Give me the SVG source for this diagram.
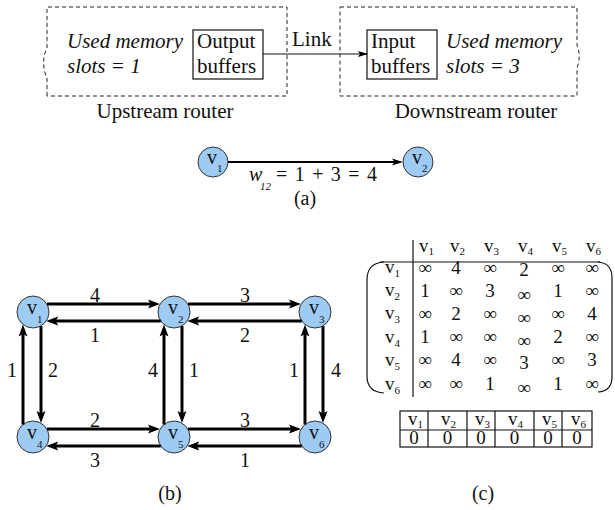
<svg xmlns="http://www.w3.org/2000/svg" width="615" height="510" viewBox="0 0 615 510" font-family="'Liberation Serif', 'DejaVu Serif', serif">
<style>
text { font-family: 'Liberation Serif', 'DejaVu Serif', serif; fill: #111; }
.t { font-size: 21px; }
.it { font-style: italic; }
.dash { fill: none; stroke: #222; stroke-width: 1; stroke-dasharray: 4 3; }
.box { fill: none; stroke: #111; stroke-width: 1.2; }
.node circle { fill: #9dcbf3; stroke: #333; stroke-width: 1; }
.node text { font-size: 20px; }
.sub { font-size: 11px; }
.e { stroke: #000; stroke-width: 3; fill: none; marker-end: url(#ah); }
.lbl { font-size: 20px; text-anchor: middle; }
.m { font-size: 19px; text-anchor: middle; }
.hv { font-size: 19px; }
.grid { stroke: #111; stroke-width: 1.2; fill: none; }
</style>
<defs>
<marker id="ah" markerUnits="userSpaceOnUse" viewBox="0 -5 13 10" markerWidth="13" markerHeight="10" refX="5" refY="0" orient="auto">
<path d="M0,-4.5 L12,0 L0,4.5 L2.5,0 Z" fill="#000"/>
</marker>
<marker id="ah2" markerUnits="userSpaceOnUse" viewBox="0 -5 12 10" markerWidth="12" markerHeight="10" refX="5" refY="0" orient="auto">
<path d="M0,-3.5 L11,0 L0,3.5 L2.5,0 Z" fill="#000"/>
</marker>
<marker id="ah3" markerUnits="userSpaceOnUse" viewBox="0 -5 12 10" markerWidth="12" markerHeight="10" refX="9" refY="0" orient="auto">
<path d="M0,-3 L10,0 L0,3 L2,0 Z" fill="#000"/>
</marker>
</defs>

<g id="upstream">
<path class="dash" d="M47,96 L47,78 C43,70 42,58 47,48 L47,7 L287,7 L287,96 Z"/>
<text class="t it" x="67" y="48">Used memory</text>
<text class="t it" x="67" y="73">slots = 1</text>
<text class="t" x="165" y="118" text-anchor="middle">Upstream router</text>
</g>
<g id="output-buffers">
<rect class="box" x="193" y="30" width="70" height="49"/>
<text class="t" x="197" y="48">Output</text>
<text class="t" x="197" y="73">buffers</text>
</g>
<g id="downstream">
<path class="dash" d="M340,7 L577,7 L577,45 C580,52 580,60 577,68 L577,96 L340,96 Z"/>
<text class="t it" x="446" y="48">Used memory</text>
<text class="t it" x="446" y="73">slots = 3</text>
<text class="t" x="476" y="118" text-anchor="middle">Downstream router</text>
</g>
<g id="input-buffers">
<rect class="box" x="367" y="30" width="70" height="49"/>
<text class="t" x="371" y="48">Input</text>
<text class="t" x="371" y="73">buffers</text>
</g>

<g id="a-v1" class="node">
<circle cx="213" cy="162" r="15"/>
<text x="207" y="164">v<tspan class="sub" dy="8">1</tspan></text>
</g>
<g id="a-v2" class="node">
<circle cx="418" cy="162" r="15"/>
<text x="412" y="164">v<tspan class="sub" dy="8">2</tspan></text>
</g>

<g id="v1" class="node"><circle cx="33" cy="312" r="16"/><text x="27" y="314">v<tspan class="sub" dy="9">1</tspan></text></g>
<g id="v2" class="node"><circle cx="174" cy="312" r="16"/><text x="168" y="314">v<tspan class="sub" dy="9">2</tspan></text></g>
<g id="v3" class="node"><circle cx="315" cy="312" r="16"/><text x="309" y="314">v<tspan class="sub" dy="9">3</tspan></text></g>
<g id="v4" class="node"><circle cx="33" cy="437" r="16"/><text x="27" y="439">v<tspan class="sub" dy="9">4</tspan></text></g>
<g id="v5" class="node"><circle cx="174" cy="437" r="16"/><text x="168" y="439">v<tspan class="sub" dy="9">5</tspan></text></g>
<g id="v6" class="node"><circle cx="315" cy="437" r="16"/><text x="309" y="439">v<tspan class="sub" dy="9">6</tspan></text></g>

<g id="connectors">
<line x1="263" y1="54" x2="367" y2="54" stroke="#111" stroke-width="1" marker-end="url(#ah3)"/>
<line x1="228" y1="162" x2="397" y2="162" stroke="#000" stroke-width="2" marker-end="url(#ah2)"/>
<line class="e" x1="47" y1="304" x2="153" y2="304"/>
<line class="e" x1="160.8" y1="321" x2="53.2" y2="321"/>
<line class="e" x1="188" y1="304" x2="294" y2="304"/>
<line class="e" x1="301.8" y1="321" x2="194.2" y2="321"/>
<line class="e" x1="47" y1="429" x2="153" y2="429"/>
<line class="e" x1="160.8" y1="446" x2="53.2" y2="446"/>
<line class="e" x1="188" y1="429" x2="294" y2="429"/>
<line class="e" x1="301.8" y1="446" x2="194.2" y2="446"/>
<line class="e" x1="23" y1="424.5" x2="23" y2="331.5"/>
<line class="e" x1="41" y1="326" x2="41" y2="416"/>
<line class="e" x1="164" y1="424.5" x2="164" y2="331.5"/>
<line class="e" x1="182" y1="326" x2="182" y2="416"/>
<line class="e" x1="305" y1="424.5" x2="305" y2="331.5"/>
<line class="e" x1="323" y1="326" x2="323" y2="416"/>
</g>

<g id="labels">
<text class="t" x="292" y="46">Link</text>
<text x="249" y="181" font-size="20" font-style="italic">w</text>
<text x="260" y="190" font-size="11" font-style="italic">12</text>
<text x="276" y="181" font-size="20" textLength="101" lengthAdjust="spacing">= 1 + 3 = 4</text>
<text class="lbl" x="305" y="205">(a)</text>
<text class="lbl" x="95" y="302">4</text>
<text class="lbl" x="95" y="342">1</text>
<text class="lbl" x="245" y="302">3</text>
<text class="lbl" x="245" y="342">2</text>
<text class="lbl" x="95" y="427">2</text>
<text class="lbl" x="95" y="467">3</text>
<text class="lbl" x="245" y="427">3</text>
<text class="lbl" x="245" y="467">1</text>
<text class="lbl" x="12" y="377">1</text>
<text class="lbl" x="53" y="377">2</text>
<text class="lbl" x="153" y="377">4</text>
<text class="lbl" x="194" y="377">1</text>
<text class="lbl" x="294" y="377">1</text>
<text class="lbl" x="336" y="377">4</text>
<text class="lbl" x="170" y="500">(b)</text>
</g>

<g id="matrix">
<path class="grid" d="M380,262 L600,262"/>
<path class="grid" d="M413,240 L413,397"/>
<path class="grid" d="M384,262 Q367,263 367,280 L367,376 Q367,392 384,393"/>
<path class="grid" d="M598,262 Q612,263 612,278 L612,377 Q612,391 598,392"/>
<g class="hv">
<text x="419" y="252">v<tspan class="sub" dy="3">1</tspan></text>
<text x="450" y="252">v<tspan class="sub" dy="3">2</tspan></text>
<text x="484" y="252">v<tspan class="sub" dy="3">3</tspan></text>
<text x="518" y="252">v<tspan class="sub" dy="3">4</tspan></text>
<text x="552" y="252">v<tspan class="sub" dy="3">5</tspan></text>
<text x="586" y="252">v<tspan class="sub" dy="3">6</tspan></text>
<text x="385" y="273">v<tspan class="sub" dy="4">1</tspan></text>
<text x="385" y="296">v<tspan class="sub" dy="4">2</tspan></text>
<text x="385" y="319">v<tspan class="sub" dy="4">3</tspan></text>
<text x="385" y="343">v<tspan class="sub" dy="4">4</tspan></text>
<text x="385" y="366">v<tspan class="sub" dy="4">5</tspan></text>
<text x="385" y="390">v<tspan class="sub" dy="4">6</tspan></text>
</g>
<g class="m">
<text x="425" y="274">∞</text><text x="456" y="274">4</text><text x="490" y="274">∞</text><text x="524" y="276">2</text><text x="558" y="274">∞</text><text x="592" y="274">∞</text>
<text x="425" y="297">1</text><text x="456" y="297">∞</text><text x="490" y="297">3</text><text x="524" y="301">∞</text><text x="558" y="297">1</text><text x="592" y="297">∞</text>
<text x="425" y="320">∞</text><text x="456" y="320">2</text><text x="490" y="320">∞</text><text x="524" y="324">∞</text><text x="558" y="320">∞</text><text x="592" y="320">4</text>
<text x="425" y="343">1</text><text x="456" y="343">∞</text><text x="490" y="343">∞</text><text x="524" y="347">∞</text><text x="558" y="343">2</text><text x="592" y="343">∞</text>
<text x="425" y="366">∞</text><text x="456" y="366">4</text><text x="490" y="366">∞</text><text x="524" y="369">3</text><text x="558" y="366">∞</text><text x="592" y="366">3</text>
<text x="425" y="390">∞</text><text x="456" y="390">∞</text><text x="490" y="390">1</text><text x="524" y="394">∞</text><text x="558" y="390">1</text><text x="592" y="390">∞</text>
</g>
</g>

<g id="table">
<rect class="grid" x="400" y="411" width="192" height="36"/>
<path class="grid" d="M400,430 L592,430 M428,411 L428,447 M467,411 L467,447 M495,411 L495,447 M534,411 L534,447 M562,411 L562,447"/>
<g class="hv">
<text x="408" y="425">v<tspan class="sub" dy="3">1</tspan></text>
<text x="441" y="425">v<tspan class="sub" dy="3">2</tspan></text>
<text x="475" y="425">v<tspan class="sub" dy="3">3</tspan></text>
<text x="508" y="425">v<tspan class="sub" dy="3">4</tspan></text>
<text x="542" y="425">v<tspan class="sub" dy="3">5</tspan></text>
<text x="571" y="425">v<tspan class="sub" dy="3">6</tspan></text>
</g>
<g class="m">
<text x="414" y="444">0</text><text x="447.5" y="444">0</text><text x="481" y="444">0</text><text x="514.5" y="444">0</text><text x="548" y="444">0</text><text x="577" y="444">0</text>
</g>
<text class="lbl" x="483" y="500">(c)</text>
</g>
</svg>
